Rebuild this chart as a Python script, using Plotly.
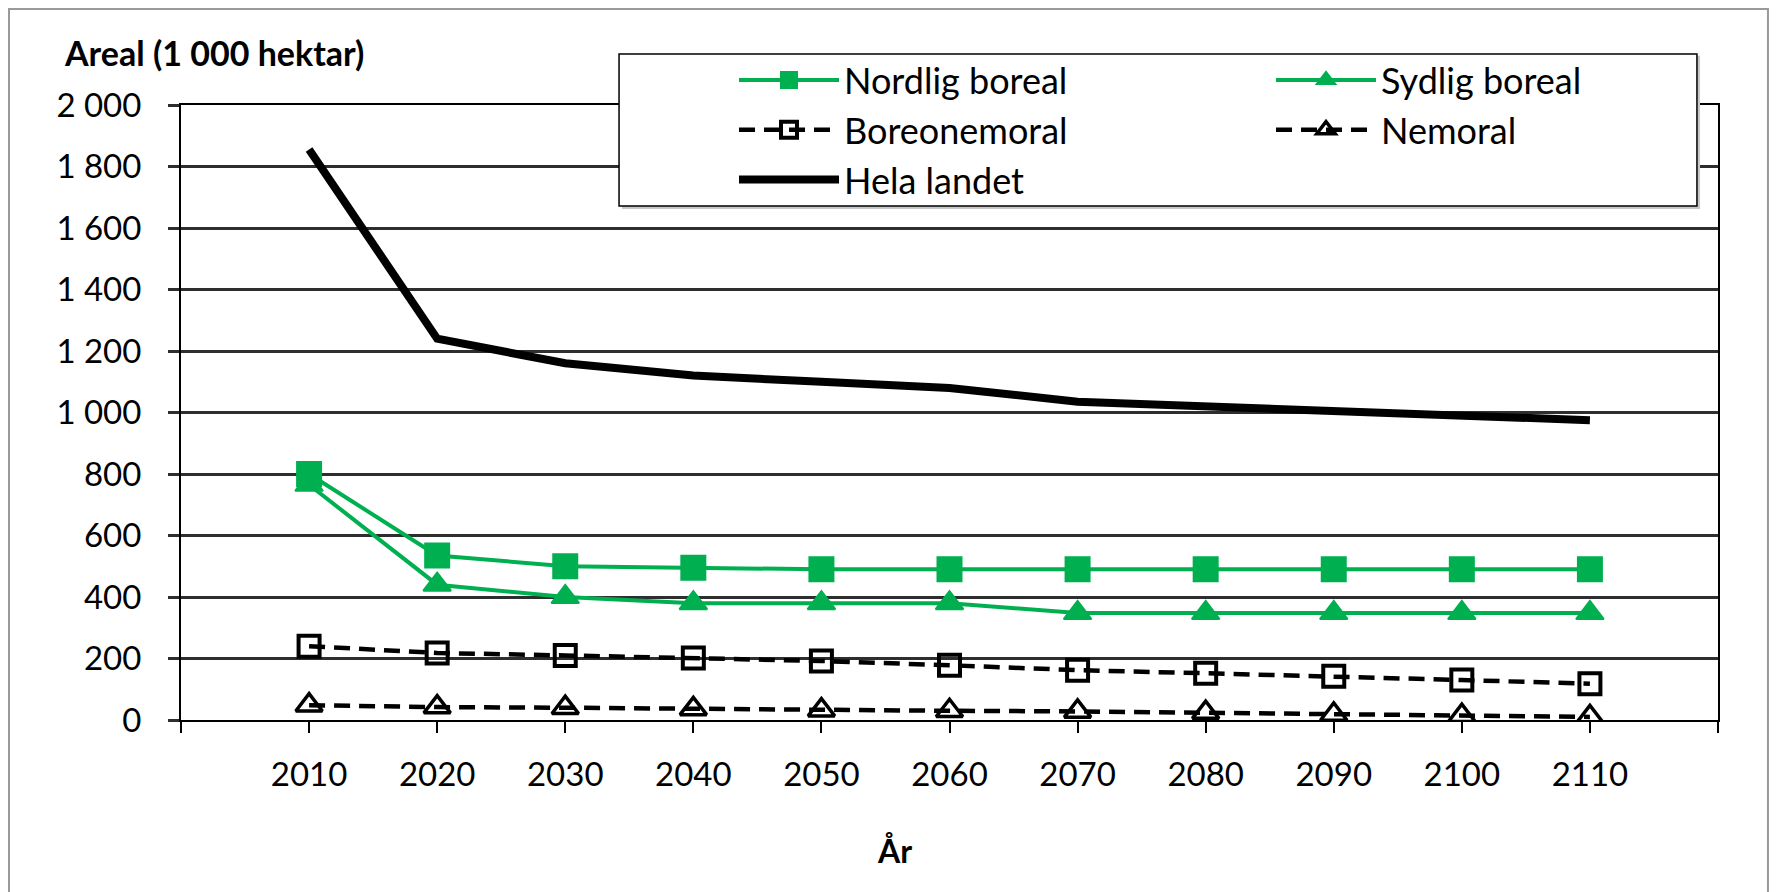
import plotly.graph_objects as go

years = [2010, 2020, 2030, 2040, 2050, 2060, 2070, 2080, 2090, 2100, 2110]
nordlig_boreal = [800, 535, 500, 495, 490, 490, 490, 490, 490, 490, 490]
sydlig_boreal = [765, 440, 400, 380, 380, 380, 348, 348, 348, 348, 348]
boreonemoral = [240, 218, 210, 202, 192, 178, 162, 152, 142, 130, 118]
nemoral = [48, 42, 40, 36, 32, 30, 28, 24, 18, 14, 10]
hela_landet = [1855, 1240, 1160, 1120, 1100, 1080, 1035, 1020, 1000, 985, 975]

tick_years = [2000] + years + [2120]
tick_labels = [""] + [str(y) for y in years] + [""]

GREEN = "#00B050"
FONT = "Lato, Carlito, sans-serif"

fig = go.Figure()

fig.add_trace(go.Scatter(
    x=years, y=nordlig_boreal, mode="lines+markers", name="Nordlig boreal",
    line=dict(color=GREEN, width=4),
    marker=dict(symbol="square", size=24, color=GREEN, line=dict(color=GREEN, width=2)),
))
fig.add_trace(go.Scatter(
    x=years, y=sydlig_boreal, mode="lines+markers", name="Sydlig boreal",
    line=dict(color=GREEN, width=4),
    marker=dict(symbol="triangle-up", size=24, color=GREEN, line=dict(color=GREEN, width=2)),
))
fig.add_trace(go.Scatter(
    x=years, y=boreonemoral, mode="lines+markers", name="Boreonemoral",
    line=dict(color="black", width=4.5, dash="16px,9px"),
    marker=dict(symbol="square-open", size=21, color="black", line=dict(width=4)),
))
fig.add_trace(go.Scatter(
    x=years, y=nemoral, mode="lines+markers", name="Nemoral",
    line=dict(color="black", width=4.5, dash="16px,9px"),
    marker=dict(symbol="triangle-up-open", size=23, color="black", line=dict(width=3.5)),
))
fig.add_trace(go.Scatter(
    x=years, y=hela_landet, mode="lines", name="Hela landet",
    line=dict(color="black", width=8),
))

# outer frame and legend box (paper coords)
shapes = [
    dict(type="rect", xref="paper", yref="paper", x0=-0.1119, x1=1.0325, y0=-0.35, y1=1.1561,
         line=dict(color="#9a9a9a", width=2), layer="below"),
    dict(type="rect", xref="paper", yref="paper", x0=0.2870, x1=0.9883, y0=0.8310, y1=1.0800,
         line=dict(width=0), fillcolor="#c8c8c8", layer="above"),
    dict(type="rect", xref="paper", yref="paper", x0=0.2850, x1=0.9863, y0=0.8358, y1=1.0829,
         line=dict(color="black", width=1.5), fillcolor="white", layer="above"),
]

fig.update_layout(
    width=1777, height=892,
    margin=dict(l=181, r=59, t=105, b=172, autoexpand=False),
    paper_bgcolor="white", plot_bgcolor="white",
    font=dict(family=FONT, size=33, color="black"),
    separators=", ",
    shapes=shapes,
    showlegend=True,
    legend=dict(
        orientation="h", x=0.3598, y=1.0894, xanchor="left", yanchor="top",
        itemwidth=100, entrywidth=422, bgcolor="rgba(0,0,0,0)", borderwidth=0,
        font=dict(family=FONT, size=36, color="black"),
    ),
    xaxis=dict(
        range=[2000, 2120], tickmode="array", tickvals=tick_years, ticktext=tick_labels,
        showgrid=False, zeroline=False, showline=True, linecolor="black", linewidth=2,
        mirror=True, ticks="outside", ticklen=11, tickwidth=2, tickcolor="black",
        ticklabelstandoff=13,
    ),
    yaxis=dict(
        range=[0, 2000], dtick=200, tickformat=",d",
        showgrid=True, gridcolor="#2e2e2e", gridwidth=2.5, zeroline=False,
        showline=True, linecolor="black", linewidth=2, mirror=True,
        ticks="outside", ticklen=11, tickwidth=2.5, tickcolor="#2e2e2e",
        ticklabelstandoff=20,
    ),
    annotations=[
        dict(text="Areal (1 000 hektar)", xref="paper", yref="paper", x=-0.0774, y=1.0846,
             xanchor="left", yanchor="middle", showarrow=False,
             font=dict(family=FONT, size=34, color="black", weight="bold")),
        dict(text="År", xref="paper", yref="paper", x=0.4645, y=-0.2114,
             xanchor="center", yanchor="middle", showarrow=False,
             font=dict(family=FONT, size=32, color="black", weight="bold")),
    ],
)

fig.write_html("out.html", config={"displayModeBar": False},
               post_script="document.body.style.margin='0';")
